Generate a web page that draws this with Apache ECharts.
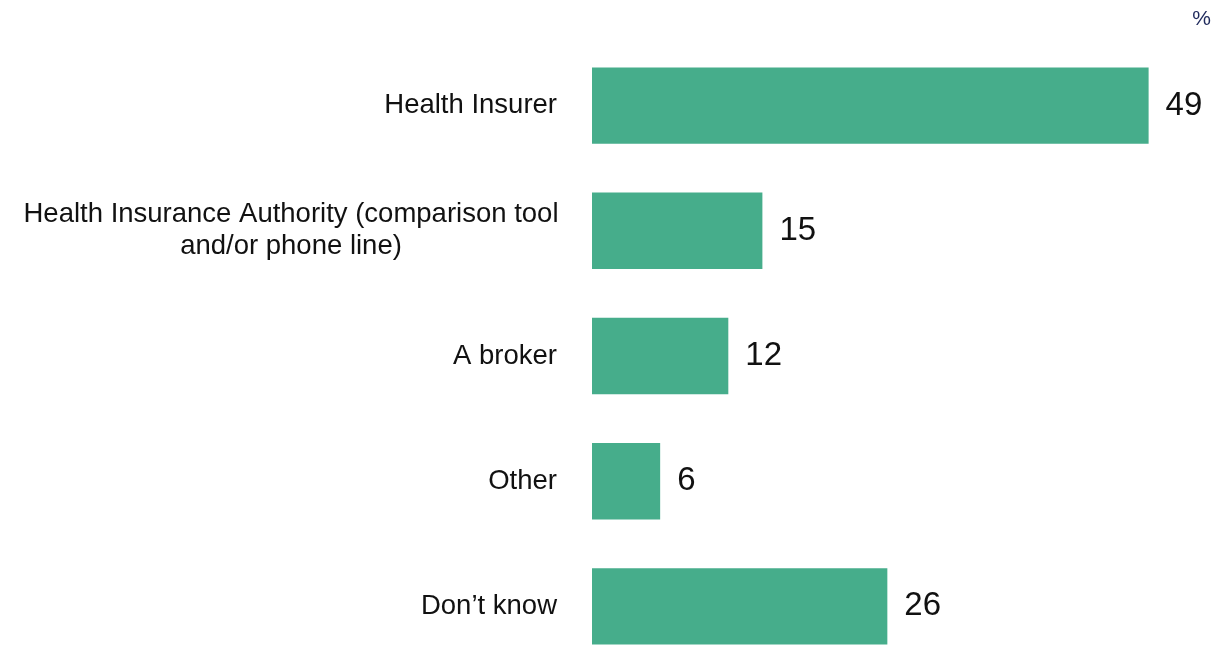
<!DOCTYPE html>
<html>
<head>
<meta charset="utf-8">
<script src="https://cdn.jsdelivr.net/npm/echarts@6/dist/echarts.min.js"></script>
<style>
  html, body { margin: 0; padding: 0; background: #fff; }
  #main { width: 1213px; height: 649px; }
</style>
</head>
<body>
<div id="main"></div>
<script>
// categories from top to bottom
const categories = [
  'Health Insurer',
  'Health Insurance Authority (comparison tool\nand/or phone line)',
  'A broker',
  'Other',
  "Don\u2019t know"
];
const values = [49, 15, 12, 6, 26];

const chart = echarts.init(document.getElementById('main'));

const labelFont = { fontSize: 27.5, lineHeight: 32, color: '#111', fontFamily: 'Liberation Sans' };

const option = {
  animation: false,
  graphic: [{
    type: 'text',
    right: 2,
    top: 9,
    style: { text: '%', fontSize: 21, fill: '#1f2a5c', fontFamily: 'Liberation Sans' }
  }],
  grid: { left: 592, right: 11, top: 43, height: 626, outerBoundsMode: 'none' },
  xAxis: {
    type: 'value',
    min: 0,
    max: 53.7,
    show: false
  },
  yAxis: {
    type: 'category',
    data: categories,
    inverse: true,
    axisLine: { show: false },
    axisTick: { show: false },
    axisLabel: Object.assign({
      margin: 35,
      align: 'right',
      // two-line labels: lines centred under each other
      formatter: function (v) {
        if (v.indexOf('\n') < 0) return v;
        return v.split('\n').map(function (s) { return '{c|' + s + '}'; }).join('\n');
      },
      rich: { c: Object.assign({ width: 532, align: 'center' }, labelFont) }
    }, labelFont)
  },
  series: [{
    type: 'bar',
    data: values,
    barCategoryGap: '39%',
    itemStyle: { color: '#46ad8b' },
    label: {
      show: true,
      position: 'right',
      distance: 17,
      fontSize: 33,
      color: '#111',
      fontFamily: 'Liberation Sans'
    }
  }]
};

chart.setOption(option);
</script>
</body>
</html>
